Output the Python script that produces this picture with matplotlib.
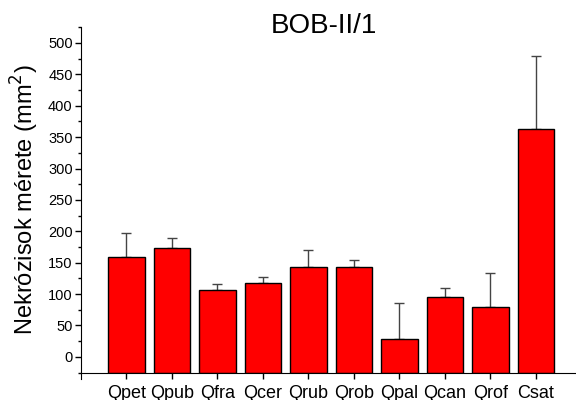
import matplotlib
matplotlib.use("Agg")
import matplotlib.pyplot as plt
from matplotlib.ticker import MultipleLocator

# ── Data ──────────────────────────────────────────────────────
species = ["Qpet", "Qpub", "Qfra", "Qcer", "Qrub", "Qrob", "Qpal", "Qcan", "Qrof", "Csat"]
means   = [159.5, 173, 107, 117.5, 143.5, 142.5, 29, 96, 79.5, 363.5]
errors  = [37, 16, 9, 9.5, 27, 12, 56, 13.5, 54, 116]

plt.rcParams["font.family"] = ["Liberation Sans", "DejaVu Sans"]

fig = plt.figure(figsize=(5.76, 4.0), dpi=100)
ax = fig.add_axes([0.1406, 0.06875, 0.8594, 0.8646])

y_min, y_max = -25, 526
x = list(range(len(species)))
# Origin-style bars: drawn up from the bottom of the axis
ax.bar(x, [m - y_min for m in means], bottom=y_min, width=0.8,
       color="#ff0000", edgecolor="black", linewidth=1.0, zorder=2)
ax.errorbar(x, means, yerr=[[0] * len(errors), errors], fmt="none",
            ecolor="#444444", elinewidth=1.0, capsize=3.6, capthick=1.0, zorder=1)

ax.set_xlim(-1, 9.88)
ax.set_ylim(y_min, y_max)
ax.set_xticks(x)
ax.set_xticklabels(species, fontsize=13)
ax.yaxis.set_major_locator(MultipleLocator(50))
ax.yaxis.set_minor_locator(MultipleLocator(25))
ax.set_yticks(range(0, 501, 50))

ax.tick_params(axis="y", which="major", direction="out", length=4, width=1,
               labelsize=10.5, pad=2)
ax.tick_params(axis="y", which="minor", direction="out", length=2.5, width=1)
ax.tick_params(axis="x", which="major", direction="out", length=4, width=1, pad=5)

for side in ("top", "right"):
    ax.spines[side].set_visible(False)
ax.spines["left"].set_bounds(-36, y_max)

ax.set_ylabel("Nekrózisok mérete (mm$^2$)", fontsize=17, labelpad=5)
fig.text(0.562, 0.9025, "BOB-II/1", fontsize=20, ha="center", va="bottom")

fig.savefig("out.png", dpi=100)
